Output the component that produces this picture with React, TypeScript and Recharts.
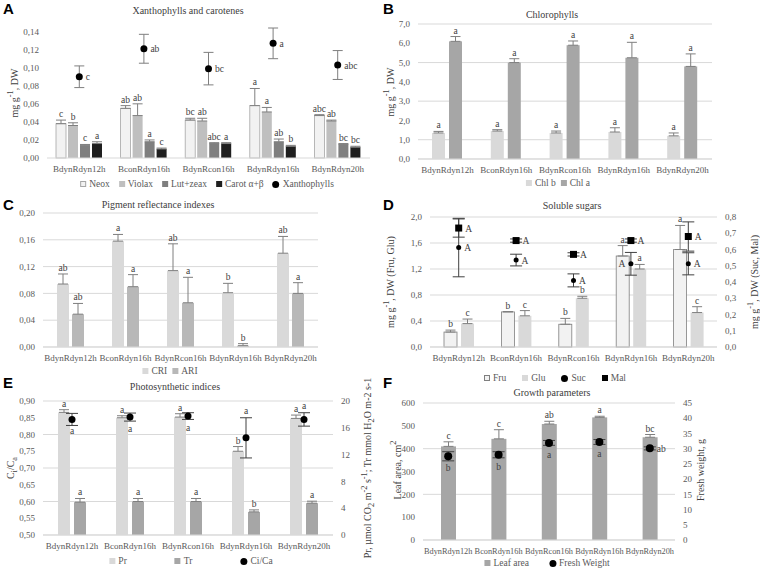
import React from "react";
import { ComposedChart, Bar, Scatter, XAxis, YAxis, CartesianGrid, ErrorBar } from "recharts";

const categories = ["BdynRdyn12h", "BconRdyn16h", "BdynRcon16h", "BdynRdyn16h", "BdynRdyn20h"];

// A - xanthophylls and carotenes (mg g-1 DW)
const neox = [0.038, 0.055, 0.042, 0.058, 0.047];
const neoxErr = [0.004, 0.003, 0.002, 0.019, 0.001];
const neoxSig = ["c", "ab", "bc", "a", "abc"];
const violax = [0.036, 0.047, 0.041, 0.051, 0.041];
const violaxErr = [0.003, 0.013, 0.003, 0.005, 0.001];
const violaxSig = ["b", "ab", "ab", "a", "ab"];
const lut = [0.014, 0.018, 0.016, 0.018, 0.015];
const lutErr = [0.001, 0.002, 0.001, 0.003, 0.001];
const lutSig = ["c", "a", "abc", "ab", "bc"];
const carot = [0.016, 0.01, 0.016, 0.013, 0.012];
const carotErr = [0.002, 0.001, 0.001, 0.001, 0.001];
const carotSig = ["a", "c", "a", "b", "bc"];
const xan = [0.09, 0.121, 0.099, 0.127, 0.103];
const xanErr = [0.012, 0.016, 0.018, 0.017, 0.016];
const xanSig = ["c", "ab", "bc", "a", "abc"];
const ticksA = [0, 0.02, 0.04, 0.06, 0.08, 0.1, 0.12, 0.14];

// B - chlorophylls
const chlB = [1.35, 1.45, 1.35, 1.4, 1.2];
const chlBErr = [0.08, 0.07, 0.1, 0.22, 0.15];
const chlA = [6.1, 5.0, 5.9, 5.25, 4.8];
const chlAErr = [0.25, 0.2, 0.22, 0.8, 0.65];
const sigAllA = ["a", "a", "a", "a", "a"];
const ticksB = [0, 1, 2, 3, 4, 5, 6, 7];

// C - pigment reflectance indexes
const cri = [0.094, 0.158, 0.114, 0.081, 0.14];
const criErr = [0.015, 0.01, 0.04, 0.014, 0.025];
const criSig = ["ab", "a", "ab", "b", "ab"];
const ari = [0.049, 0.09, 0.066, 0.002, 0.08];
const ariErr = [0.016, 0.018, 0.038, 0.003, 0.016];
const ariSig = ["ab", "a", "a", "b", "a"];
const ticksC = [0, 0.04, 0.08, 0.12, 0.16, 0.2];

// D - soluble sugars
const fru = [0.23, 0.54, 0.35, 1.4, 1.5];
const fruErr = [0.03, 0.005, 0.09, 0.16, 0.37];
const fruSig = ["b", "b", "b", "a", "a"];
const glu = [0.36, 0.48, 0.75, 1.2, 0.53];
const gluErr = [0.07, 0.08, 0.03, 0.07, 0.09];
const gluSig = ["c", "c", "b", "a", "c"];
const suc = [0.612, 0.535, 0.41, 0.512, 0.512];
const sucErr = [0.18, 0.036, 0.04, 0.07, 0.068];
const mal = [0.732, 0.655, 0.57, 0.655, 0.68];
const malErr = [0.056, 0.01, 0.01, 0.01, 0.09];
const sigAllCap = ["A", "A", "A", "A", "A"];
const ticksDL = [0, 0.2, 0.4, 0.6, 0.8, 1.0, 1.2, 1.4, 1.6, 1.8, 2.0];
const ticksDR = [0, 0.1, 0.2, 0.3, 0.4, 0.5, 0.6, 0.7, 0.8];

// E - photosynthetic indices
const pr = [18.3, 17.5, 17.6, 12.5, 17.4];
const prErr = [0.4, 0.3, 0.5, 0.7, 0.5];
const prSig = ["a", "a", "a", "b", "a"];
const tr = [4.9, 5.0, 5.0, 3.45, 4.75];
const trErr = [0.55, 0.45, 0.45, 0.3, 0.3];
const trSig = ["a", "a", "a", "b", "a"];
const cica = [0.845, 0.852, 0.855, 0.79, 0.845];
const cicaErr = [0.018, 0.012, 0.01, 0.06, 0.02];
const ticksEL = [0.5, 0.55, 0.6, 0.65, 0.7, 0.75, 0.8, 0.85, 0.9];
const ticksER = [0, 2, 4, 6, 8, 10, 12, 14, 16, 18, 20];

// F - growth parameters
const leaf = [410, 443, 508, 537, 450];
const leafErr = [20, 40, 12, 5, 12];
const leafSig = ["c", "c", "ab", "a", "bc"];
const fw = [27.5, 28, 31.9, 32.2, 30.1];
const fwErr = [1.5, 1, 0.8, 0.8, 0.5];
const fwSig = ["b", "b", "a", "a", "ab"];
const ticksFL = [0, 100, 200, 300, 400, 500, 600];
const ticksFR = [0, 5, 10, 15, 20, 25, 30, 35, 40, 45];

type Place = "r" | "l" | "b" | "t";
const placeXan: Place[] = ["r", "r", "r", "r", "r"];
const placeSuc: Place[] = ["r", "r", "r", "l", "r"];
const placeMal: Place[] = ["r", "r", "r", "r", "r"];
const placeCica: Place[] = ["b", "b", "b", "t", "t"];
const placeFw: Place[] = ["b", "b", "b", "b", "r"];

const FONT = "Liberation Serif, Times New Roman, serif";
const TICK = { fontSize: 9, fill: "#595959", fontFamily: FONT };
const LBL = "#404040";
const fmt = (d: number) => (v: number) => v.toFixed(d).replace(".", ",");

const rowsA = categories.map((cat, i) => ({
  i, cat,
  neox: neox[i], neoxE: [0, neoxErr[i]],
  violax: violax[i], violaxE: [0, violaxErr[i]],
  lut: lut[i], lutE: [0, lutErr[i]],
  carot: carot[i], carotE: [0, carotErr[i]],
  xan: xan[i], xanE: xanErr[i],
}));
const rowsB = categories.map((cat, i) => ({
  i, cat, chlB: chlB[i], chlBE: [0, chlBErr[i]], chlA: chlA[i], chlAE: [0, chlAErr[i]],
}));
const rowsC = categories.map((cat, i) => ({
  i, cat, cri: cri[i], criE: [0, criErr[i]], ari: ari[i], ariE: [0, ariErr[i]],
}));
const rowsD = categories.map((cat, i) => ({
  i, cat, fru: fru[i], fruE: [0, fruErr[i]], glu: glu[i], gluE: [0, gluErr[i]],
  suc: suc[i], sucE: sucErr[i], mal: mal[i], malE: malErr[i],
}));
const rowsE = categories.map((cat, i) => ({
  i, cat, pr: pr[i], prE: [0, prErr[i]], tr: tr[i], trE: [0, trErr[i]],
  cica: cica[i], cicaE: cicaErr[i], cicaTop: cica[i] + cicaErr[i],
}));
const rowsF = categories.map((cat, i) => ({
  i, cat, leaf: leaf[i], leafE: [0, leafErr[i]], fw: fw[i], fwE: fwErr[i],
}));

// bar with its significance letter above the error bar
const barShape = (key: string, err: number[], sig: string[], fill: string, stroke?: string) => (p: any) => {
  const { x, y, width, height, payload } = p;
  const i = payload.i;
  const v = payload[key];
  const per = v ? height / v : 0;
  const top = y - err[i] * per;
  return (
    <g>
      <rect x={x} y={y} width={width} height={height} fill={fill}
        stroke={stroke || "none"} strokeWidth={stroke ? 0.8 : 0} />
      <text x={x + width / 2} y={top - 3} textAnchor="middle" fontSize={9.5}
        fontFamily={FONT} fill={LBL}>{sig[i]}</text>
    </g>
  );
};

const dotShape = (sig: string[], place: Place[], kind: "circle" | "square", r: number) => (p: any) => {
  const { cx, cy, payload } = p;
  const i = payload.i;
  const pl = place[i];
  let lx = cx + r + 3;
  let ly = cy + 3.5;
  let anchor: "start" | "end" | "middle" = "start";
  if (pl === "l") { lx = cx - r - 3; anchor = "end"; }
  if (pl === "b") { lx = cx; ly = cy + 15; anchor = "middle"; }
  return (
    <g>
      {kind === "circle"
        ? <circle cx={cx} cy={cy} r={r} fill="#000" />
        : <rect x={cx - r} y={cy - r} width={2 * r} height={2 * r} fill="#000" />}
      {pl !== "t" && (
        <text x={lx} y={ly} textAnchor={anchor} fontSize={9.5} fontFamily={FONT} fill={LBL}>{sig[i]}</text>
      )}
    </g>
  );
};

const topText = (sig: string[], place: Place[]) => (p: any) => {
  const i = p.payload.i;
  if (place[i] !== "t") return <g />;
  return (
    <text x={p.cx} y={p.cy - 4} textAnchor="middle" fontSize={9.5} fontFamily={FONT} fill={LBL}>{sig[i]}</text>
  );
};

type KeyItem = { name: string; fill: string; stroke?: string; round?: boolean };
const KeyRow = ({ x, y, gap, items }: { x: number; y: number; gap: number; items: KeyItem[] }) => (
  <div style={{
    position: "absolute", left: x, top: y, transform: "translate(-50%, -50%)", display: "flex",
    gap, alignItems: "center", fontFamily: FONT, fontSize: 9.5, color: "#595959", whiteSpace: "nowrap",
  }}>
    {items.map((it) => (
      <span key={it.name} style={{ display: "flex", alignItems: "center", gap: 3 }}>
        <span style={{
          display: "inline-block", width: it.round ? 7 : 6, height: it.round ? 7 : 6, background: it.fill,
          boxSizing: "border-box", border: it.stroke ? `1px solid ${it.stroke}` : "none",
          borderRadius: it.round ? "50%" : 0,
        }} />
        {it.name}
      </span>
    ))}
  </div>
);

const Title = ({ x, y, children }: { x: number; y: number; children: React.ReactNode }) => (
  <div style={{
    position: "absolute", left: x, top: y, transform: "translate(-50%, -50%)", fontFamily: FONT,
    fontSize: 10, color: "#404040", whiteSpace: "nowrap",
  }}>{children}</div>
);

const VLabel = ({ x, y, children }: { x: number; y: number; children: React.ReactNode }) => (
  <div style={{
    position: "absolute", left: x, top: y, transform: "translate(-50%, -50%) rotate(-90deg)",
    fontFamily: FONT, fontSize: 10, color: "#404040", whiteSpace: "nowrap",
  }}>{children}</div>
);

const Letter = ({ x, y, children }: { x: number; y: number; children: React.ReactNode }) => (
  <div style={{
    position: "absolute", left: x, top: y, fontFamily: "Liberation Sans, Arial, sans-serif",
    fontWeight: 700, fontSize: 15, color: "#000", lineHeight: "15px",
  }}>{children}</div>
);

const Panel = ({ left, top, children }: { left: number; top: number; children: React.ReactNode }) => (
  <div style={{ position: "absolute", left, top, fontFamily: FONT }}>{children}</div>
);

const xAxisProps = (h: number, fs = 9) => ({
  dataKey: "cat", interval: 0 as const, height: h, tickLine: false,
  axisLine: { stroke: "#d9d9d9" }, tick: { ...TICK, fontSize: fs },
});
const EB = { stroke: "#7f7f7f", strokeWidth: 1, width: 5 };
const EBD = { stroke: "#404040", strokeWidth: 1, width: 6 };
const CS = { fontFamily: FONT };

export default function App() {
  return (
    <div style={{ position: "absolute", left: 0, top: 0, width: 760, height: 574, background: "#fff", overflow: "hidden" }}>
      {/* A */}
      <Panel left={0} top={0}>
        <ComposedChart style={CS} width={380} height={190} data={rowsA} margin={{ top: 28, right: 10, left: 0, bottom: 2 }}
          barSize={10} barGap={2}>
          <XAxis {...xAxisProps(30)} />
          <YAxis domain={[0, 0.14]} ticks={ticksA} tickFormatter={fmt(2)} width={47}
            axisLine={false} tickLine={false} tick={TICK} />
          <Bar dataKey="neox" isAnimationActive={false} shape={barShape("neox", neoxErr, neoxSig, "#f2f2f2", "#a6a6a6")}>
            <ErrorBar dataKey="neoxE" {...EB} />
          </Bar>
          <Bar dataKey="violax" isAnimationActive={false} shape={barShape("violax", violaxErr, violaxSig, "#bfbfbf")}>
            <ErrorBar dataKey="violaxE" {...EB} />
          </Bar>
          <Bar dataKey="lut" isAnimationActive={false} shape={barShape("lut", lutErr, lutSig, "#7f7f7f")}>
            <ErrorBar dataKey="lutE" {...EB} />
          </Bar>
          <Bar dataKey="carot" isAnimationActive={false} shape={barShape("carot", carotErr, carotSig, "#1f1f1f")}>
            <ErrorBar dataKey="carotE" {...EB} />
          </Bar>
          <Scatter dataKey="xan" isAnimationActive={false} shape={dotShape(xanSig, placeXan, "circle", 3.5)}>
            <ErrorBar dataKey="xanE" direction="y" {...EB} />
          </Scatter>
        </ComposedChart>
      </Panel>
      <Letter x={3} y={1}>A</Letter>
      <Title x={188} y={10}>Xanthophylls and carotenes</Title>
      <VLabel x={13} y={93}>mg g<sup>-1</sup>, DW</VLabel>
      <KeyRow x={207} y={184} gap={9} items={[
        { name: "Neox", fill: "#f2f2f2", stroke: "#a6a6a6" },
        { name: "Violax", fill: "#bfbfbf" },
        { name: "Lut+zeax", fill: "#7f7f7f" },
        { name: "Carot α+β", fill: "#1f1f1f" },
        { name: "Xanthophylls", fill: "#000", round: true },
      ]} />

      {/* B */}
      <Panel left={380} top={0}>
        <ComposedChart style={CS} width={380} height={190} data={rowsB} margin={{ top: 24, right: 48, left: 0, bottom: 1 }}
          barSize={13} barGap={4}>
          <CartesianGrid vertical={false} stroke="#d9d9d9" />
          <XAxis {...xAxisProps(30)} />
          <YAxis domain={[0, 7]} ticks={ticksB} tickFormatter={fmt(1)} width={38}
            axisLine={false} tickLine={false} tick={TICK} />
          <Bar dataKey="chlB" isAnimationActive={false} shape={barShape("chlB", chlBErr, sigAllA, "#d9d9d9")}>
            <ErrorBar dataKey="chlBE" {...EB} />
          </Bar>
          <Bar dataKey="chlA" isAnimationActive={false} shape={barShape("chlA", chlAErr, sigAllA, "#a6a6a6")}>
            <ErrorBar dataKey="chlAE" {...EB} />
          </Bar>
        </ComposedChart>
      </Panel>
      <Letter x={383} y={1}>B</Letter>
      <Title x={552} y={14}>Chlorophylls</Title>
      <VLabel x={389} y={92}>mg g<sup>-1</sup>, DW</VLabel>
      <KeyRow x={558} y={183} gap={5} items={[
        { name: "Chl b", fill: "#d9d9d9" },
        { name: "Chl a", fill: "#a6a6a6" },
      ]} />

      {/* C */}
      <Panel left={0} top={190}>
        <ComposedChart style={CS} width={380} height={185} data={rowsC} margin={{ top: 23, right: 62, left: 0, bottom: 2 }}
          barSize={12} barGap={3}>
          <CartesianGrid vertical={false} stroke="#d9d9d9" />
          <XAxis {...xAxisProps(26)} />
          <YAxis domain={[0, 0.2]} ticks={ticksC} tickFormatter={fmt(2)} width={43}
            axisLine={false} tickLine={false} tick={TICK} />
          <Bar dataKey="cri" isAnimationActive={false} shape={barShape("cri", criErr, criSig, "#d9d9d9")}>
            <ErrorBar dataKey="criE" {...EB} />
          </Bar>
          <Bar dataKey="ari" isAnimationActive={false} shape={barShape("ari", ariErr, ariSig, "#b8b8b8")}>
            <ErrorBar dataKey="ariE" {...EB} />
          </Bar>
        </ComposedChart>
      </Panel>
      <Letter x={3} y={197}>C</Letter>
      <Title x={158} y={204}>Pigment reflectance indexes</Title>
      <KeyRow x={170} y={371} gap={5} items={[
        { name: "CRI", fill: "#d9d9d9" },
        { name: "ARI", fill: "#b8b8b8" },
      ]} />

      {/* D */}
      <Panel left={380} top={190}>
        <ComposedChart style={CS} width={380} height={185} data={rowsD} margin={{ top: 27, right: 8, left: 0, bottom: 2 }}
          barSize={13} barGap={4}>
          <CartesianGrid vertical={false} stroke="#d9d9d9" yAxisId="l" />
          <XAxis {...xAxisProps(26)} />
          <YAxis yAxisId="l" domain={[0, 2]} ticks={ticksDL} tickFormatter={fmt(1)} width={50}
            axisLine={false} tickLine={false} tick={TICK} />
          <YAxis yAxisId="r" orientation="right" domain={[0, 0.8]} ticks={ticksDR} tickFormatter={fmt(1)} width={35}
            axisLine={false} tickLine={false} tick={TICK} />
          <Bar yAxisId="l" dataKey="fru" isAnimationActive={false} shape={barShape("fru", fruErr, fruSig, "#f2f2f2", "#7f7f7f")}>
            <ErrorBar dataKey="fruE" {...EB} />
          </Bar>
          <Bar yAxisId="l" dataKey="glu" isAnimationActive={false} shape={barShape("glu", gluErr, gluSig, "#d9d9d9")}>
            <ErrorBar dataKey="gluE" {...EB} />
          </Bar>
          <Scatter yAxisId="r" dataKey="suc" isAnimationActive={false} shape={dotShape(sigAllCap, placeSuc, "circle", 2.5)}>
            <ErrorBar dataKey="sucE" direction="y" {...EBD} />
          </Scatter>
          <Scatter yAxisId="r" dataKey="mal" isAnimationActive={false} shape={dotShape(sigAllCap, placeMal, "square", 3.5)}>
            <ErrorBar dataKey="malE" direction="y" {...EBD} />
          </Scatter>
        </ComposedChart>
      </Panel>
      <Letter x={383} y={197}>D</Letter>
      <Title x={572} y={205}>Soluble sugars</Title>
      <VLabel x={389} y={282}>mg g<sup>-1</sup>, DW (Fru, Glu)</VLabel>
      <VLabel x={753} y={282}>mg g<sup>-1</sup>, DW (Suc, Mal)</VLabel>
      <KeyRow x={555} y={378} gap={16} items={[
        { name: "Fru", fill: "#f2f2f2", stroke: "#7f7f7f" },
        { name: "Glu", fill: "#d9d9d9" },
        { name: "Suc", fill: "#000", round: true },
        { name: "Mal", fill: "#000" },
      ]} />

      {/* E */}
      <Panel left={0} top={375}>
        <ComposedChart style={CS} width={380} height={199} data={rowsE} margin={{ top: 26, right: 22, left: 0, bottom: 9 }}
          barSize={12} barGap={4}>
          <CartesianGrid vertical={false} stroke="#d9d9d9" yAxisId="l" />
          <XAxis {...xAxisProps(30)} />
          <YAxis yAxisId="l" domain={[0.5, 0.9]} ticks={ticksEL} tickFormatter={fmt(2)} width={43}
            axisLine={false} tickLine={false} tick={TICK} />
          <YAxis yAxisId="r" orientation="right" domain={[0, 20]} ticks={ticksER} width={25}
            axisLine={false} tickLine={false} tick={TICK} />
          <Bar yAxisId="r" dataKey="pr" isAnimationActive={false} shape={barShape("pr", prErr, prSig, "#d9d9d9")}>
            <ErrorBar dataKey="prE" {...EB} />
          </Bar>
          <Bar yAxisId="r" dataKey="tr" isAnimationActive={false} shape={barShape("tr", trErr, trSig, "#a6a6a6")}>
            <ErrorBar dataKey="trE" {...EB} />
          </Bar>
          <Scatter yAxisId="l" dataKey="cica" isAnimationActive={false} shape={dotShape(sigAllA, placeCica, "circle", 3.5)}>
            <ErrorBar dataKey="cicaE" direction="y" {...EBD} />
          </Scatter>
          <Scatter yAxisId="l" dataKey="cicaTop" isAnimationActive={false} shape={topText(sigAllA, placeCica)} />
        </ComposedChart>
      </Panel>
      <Letter x={3} y={375}>E</Letter>
      <Title x={175} y={386}>Photosynthetic indices</Title>
      <VLabel x={12} y={468}>C<sub>i</sub>/C<sub>a</sub></VLabel>
      <VLabel x={368} y={468}>Pr, µmol CO<sub>2</sub> m<sup>-2</sup> s<sup>-1</sup>; Tr mmol H<sub>2</sub>O m-2 s-1</VLabel>
      <KeyRow x={191} y={561} gap={48} items={[
        { name: "Pr", fill: "#d9d9d9" },
        { name: "Tr", fill: "#a6a6a6" },
        { name: "Ci/Ca", fill: "#000", round: true },
      ]} />

      {/* F */}
      <Panel left={380} top={375}>
        <ComposedChart style={CS} width={380} height={199} data={rowsF} margin={{ top: 28, right: 63, left: 0, bottom: 4 }}
          barSize={15}>
          <CartesianGrid vertical={false} stroke="#d9d9d9" yAxisId="l" />
          <XAxis {...xAxisProps(30, 8.3)} />
          <YAxis yAxisId="l" domain={[0, 600]} ticks={ticksFL} width={43}
            axisLine={false} tickLine={false} tick={TICK} />
          <YAxis yAxisId="r" orientation="right" domain={[0, 45]} ticks={ticksFR} width={22}
            axisLine={false} tickLine={false} tick={TICK} />
          <Bar yAxisId="l" dataKey="leaf" isAnimationActive={false} shape={barShape("leaf", leafErr, leafSig, "#a6a6a6")}>
            <ErrorBar dataKey="leafE" {...EB} />
          </Bar>
          <Scatter yAxisId="r" dataKey="fw" isAnimationActive={false} shape={dotShape(fwSig, placeFw, "circle", 4)}>
            <ErrorBar dataKey="fwE" direction="y" {...EBD} />
          </Scatter>
        </ComposedChart>
      </Panel>
      <Letter x={383} y={375}>F</Letter>
      <Title x={552} y={392}>Growth parameters</Title>
      <VLabel x={396} y={470}>Leaf area, cm<sup>2</sup></VLabel>
      <VLabel x={700} y={470}>Fresh weight, g</VLabel>
      <KeyRow x={547} y={563} gap={20} items={[
        { name: "Leaf area", fill: "#a6a6a6" },
        { name: "Fresh Weight", fill: "#000", round: true },
      ]} />
    </div>
  );
}
